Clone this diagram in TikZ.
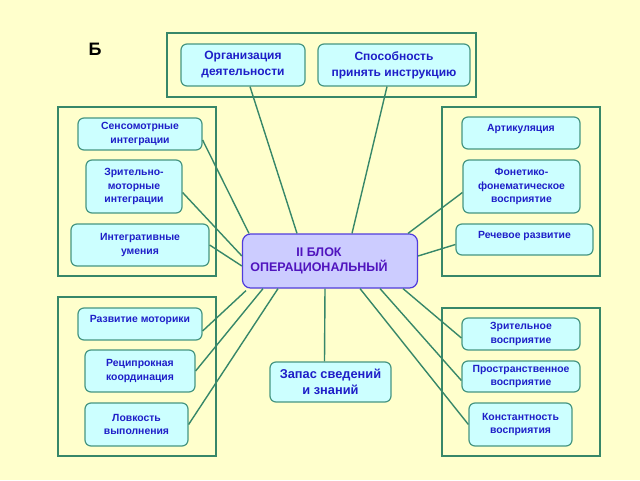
\documentclass[tikz,border=0pt]{standalone}
\usepackage{fontspec}
\setmainfont{Liberation Sans}
\definecolor{bgc}{RGB}{255,255,204}
\definecolor{grpc}{RGB}{55,135,105}
\definecolor{boxc}{RGB}{70,150,130}
\definecolor{boxf}{RGB}{204,255,255}
\definecolor{txtc}{RGB}{30,30,200}
\definecolor{cenf}{RGB}{204,204,255}
\definecolor{cenc}{RGB}{80,60,220}
\definecolor{cent}{RGB}{80,20,190}
\begin{document}
\begin{tikzpicture}[x=1pt,y=-1pt,
  grp/.style={draw=grpc, line width=1.4pt},
  box/.style={draw=boxc, fill=boxf, rounded corners=6pt, line width=1.2pt, text=txtc,
    font=\bfseries\fontsize{10.4}{13.3}\selectfont, align=center, inner sep=0pt},
  big/.style={box, font=\bfseries\fontsize{12}{16}\selectfont},
  up/.style={text depth=10pt},
  link/.style={draw=grpc, line width=1.4pt}]
\useasboundingbox[fill=bgc] (0,0) rectangle (640,480);
% groups
\draw[grp] (167,33) rectangle (476,97);
\draw[grp] (58,107) rectangle (216,276);
\draw[grp] (442,107) rectangle (600,276);
\draw[grp] (58,297) rectangle (216,456);
\draw[grp] (442,308) rectangle (600,456);
% label
\node[font=\bfseries\fontsize{18}{20}\selectfont] (lb) at (95,49) {Б};
% nodes
\node[big, minimum width=124pt, minimum height=42pt] (org) at (243,65) {Организация\\деятельности};
\node[big, minimum width=152pt, minimum height=42pt] (spos) at (394,65) {Способность\\принять инструкцию};
\node[box, minimum width=124pt, minimum height=32pt] (sens) at (140,134) {Сенсомотрные\\интеграции};
\node[box, minimum width=96pt, minimum height=53pt] (zm) at (134,186.5) {Зрительно-\\моторные\\интеграции};
\node[box, minimum width=138pt, minimum height=42pt] (integ) at (140,245) {Интегративные\\умения};
\node[box, up, minimum width=118pt, minimum height=32pt] (art) at (521,133) {Артикуляция};
\node[box, minimum width=117pt, minimum height=53pt] (fon) at (521.5,186.5) {Фонетико-\\фонематическое\\восприятие};
\node[box, up, minimum width=137pt, minimum height=31pt] (rech) at (524.5,239.5) {Речевое развитие};
\node[draw=cenc, fill=cenf, rounded corners=8pt, line width=1.2pt, text=cent,
  font=\bfseries\fontsize{12.5}{14.5}\selectfont, inner sep=0pt,
  minimum width=175pt, minimum height=54pt] (c) at (330,261)
  {\makebox[0pt]{\kern-22pt\raisebox{3pt}{\begin{tabular}{@{}c@{}}II БЛОК\\[-1pt]ОПЕРАЦИОНАЛЬНЫЙ\end{tabular}}}};
\node[box, up, minimum width=124pt, minimum height=32pt] (razv) at (140,324) {Развитие моторики};
\node[box, minimum width=110pt, minimum height=42pt] (rec) at (140,371) {Реципрокная\\координация};
\node[box, minimum width=103pt, minimum height=43pt] (lov) at (136.5,424.5) {Ловкость\\выполнения};
\node[big, font=\bfseries\fontsize{12.8}{16}\selectfont, minimum width=121pt, minimum height=40pt] (zap) at (330.5,382) {Запас сведений\\и знаний};
\node[box, minimum width=118pt, minimum height=32pt] (zr) at (521,334) {Зрительное\\восприятие};
\node[box, minimum width=118pt, minimum height=31pt] (pr) at (521,376.5) {Пространственное\\восприятие};
\node[box, minimum width=103pt, minimum height=43pt] (ko) at (520.5,424.5) {Константность\\восприятия};
% links
\draw[link] ([xshift=7pt]org.south) -- ([xshift=-33pt]c.north);
\draw[link] ([xshift=-7pt]spos.south) -- ([xshift=22pt]c.north);
\draw[link] ([yshift=-6pt]sens.east) -- ([xshift=-81pt]c.north);
\draw[link] ([yshift=-6pt]zm.east) -- ([yshift=5pt]c.west);
\draw[link] (integ.east) -- ([yshift=-5pt]c.west);
\draw[link] ([yshift=-6pt]fon.west) -- ([xshift=78pt]c.north);
\draw[link] ([yshift=-5pt]rech.west) -- ([yshift=5pt]c.east);
\draw[link] ([yshift=-7pt]razv.east) -- ([xshift=-84pt,yshift=-2pt]c.south);
\draw[link] (rec.east) -- ([xshift=-67pt]c.south);
\draw[link] (lov.east) -- ([xshift=-52pt]c.south);
\draw[link] ([xshift=-6pt]zap.north) -- ([xshift=-5pt]c.south);
\draw[link] ([yshift=-4pt]zr.west) -- ([xshift=73pt]c.south);
\draw[link] ([yshift=-4pt]pr.west) -- ([xshift=50pt]c.south);
\draw[link] (ko.west) -- ([xshift=30pt]c.south);
\end{tikzpicture}
\end{document}
